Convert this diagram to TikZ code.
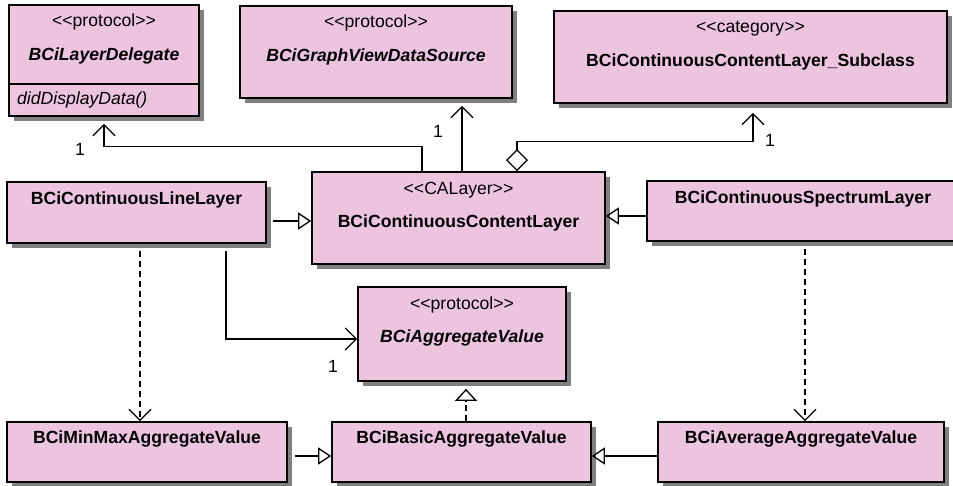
\documentclass[tikz,border=0pt]{standalone}
\usepackage{fontspec}
\setmainfont{Liberation Sans}
\usetikzlibrary{arrows.meta,shadows}
\definecolor{umlpink}{RGB}{236,196,222}
\definecolor{shadowgray}{RGB}{128,128,128}
\newcommand\umlbox[5]{\node[ubox, minimum width={(#4)-(#2)}, minimum height={(#5)-(#3)}] (#1) at ({((#2)+(#4))/2},{((#3)+(#5))/2}) {};}
\tikzset{
  ubox/.style={draw=black, line width=1.7pt, fill=umlpink, inner sep=0pt, rectangle,
    drop shadow={shadow xshift=5pt, shadow yshift=-5pt, fill=shadowgray, opacity=1}},
  st/.style={font=\fontsize{17.6}{20}\selectfont, inner sep=0pt},
  nm/.style={font=\fontsize{17.6}{20}\selectfont\bfseries, inner sep=0pt},
  nmi/.style={font=\fontsize{17.6}{20}\selectfont\bfseries\itshape, inner sep=0pt},
  conn/.style={line width=1.3pt, draw=black},
  assoc/.style={conn, -{Straight Barb[length=11pt, width=22pt]}},
  dep/.style={conn, dash pattern=on 6pt off 4pt, -{Straight Barb[length=11pt, width=22pt]}},
  gen/.style={conn, -{Triangle[open, length=13pt, width=17pt]}},
  real/.style={conn, dash pattern=on 6pt off 4pt, -{Triangle[open, length=12pt, width=22pt]}},
  aggr/.style={conn, {Diamond[open, length=22pt, width=22pt]}-{Straight Barb[length=11pt, width=22pt]}},
}
\begin{document}
\begin{tikzpicture}[x=1pt,y=-1pt]
\fill[white] (0,0) rectangle (953,486);
\path[use as bounding box] (0,0) rectangle (953,486);

% boxes
\umlbox{ld}{9}{5}{199}{116}
\umlbox{gv}{240}{6}{512}{98}
\umlbox{cat}{554}{11}{947}{103}
\umlbox{cc}{312}{172}{605}{264}
\umlbox{line}{7}{182}{266}{243}
\umlbox{spec}{647}{181}{959}{241}
\umlbox{agg}{358}{287}{566}{381}
\umlbox{minmax}{7}{422}{287}{482}
\umlbox{basic}{332}{422}{591}{482}
\umlbox{avg}{658}{422}{944}{482}

\coordinate (dv) at (0,84);
\draw[line width=1.7pt] (ld.west |- dv) -- (ld.east |- dv);

% texts
\node[st, anchor=base] (ld-st) at ([yshift=-22pt]ld.north) {<{}<protocol>{}>};
\node[nmi, anchor=base] (ld-nm) at ([yshift=-56pt]ld.north) {BCiLayerDelegate};
\node[st, anchor=base west, font=\fontsize{17.6}{20}\selectfont\itshape] (ld-op) at (17,105) {didDisplayData()};

\node[st, anchor=base] (gv-st) at ([yshift=-22pt]gv.north) {<{}<protocol>{}>};
\node[nmi, anchor=base] (gv-nm) at ([yshift=-56pt]gv.north) {BCiGraphViewDataSource};

\node[st, anchor=base] (cat-st) at ([yshift=-22pt]cat.north) {<{}<category>{}>};
\node[nm, anchor=base] (cat-nm) at ([yshift=-56pt]cat.north) {BCiContinuousContentLayer\_Subclass};

\node[st, anchor=base] (cc-st) at ([yshift=-23pt]cc.north) {<{}<CALayer>{}>};
\node[nm, anchor=base] (cc-nm) at ([yshift=-56pt]cc.north) {BCiContinuousContentLayer};

\node[nm, anchor=base] (line-nm) at ([yshift=-23pt]line.north) {BCiContinuousLineLayer};
\node[nm, anchor=base] (spec-nm) at ([yshift=-23pt]spec.north) {BCiContinuousSpectrumLayer};

\node[st, anchor=base] (agg-st) at ([yshift=-23pt]agg.north) {<{}<protocol>{}>};
\node[nmi, anchor=base] (agg-nm) at ([yshift=-56pt]agg.north) {BCiAggregateValue};

\node[nm, anchor=base] (minmax-nm) at ([yshift=-22pt]minmax.north) {BCiMinMaxAggregateValue};
\node[nm, anchor=base] (basic-nm) at ([yshift=-22pt]basic.north) {BCiBasicAggregateValue};
\node[nm, anchor=base] (avg-nm) at ([yshift=-22pt]avg.north) {BCiAverageAggregateValue};

% connectors
\coordinate (ccld) at ([xshift=-36.5pt]cc.north);
\coordinate (ldtip) at ([yshift=-7pt]ld.south);
\coordinate (ldbend) at ([yshift=-30pt]ld.south);
\draw[assoc] (ccld) |- (ldbend) -- (ldtip);

\coordinate (ccgv) at ([xshift=3.5pt]cc.north);
\coordinate (gvtip) at ([yshift=-7pt]gv.south);
\draw[assoc] (ccgv) -- (ccgv |- gvtip);

\coordinate (ccd) at ([xshift=58.5pt]cc.north);
\coordinate (cattip) at ([xshift=2.5pt, yshift=-9pt]cat.south);
\coordinate (catbend) at ([xshift=2.5pt, yshift=-38pt]cat.south);
\draw[aggr] (ccd) |- (catbend) -- (cattip);

\coordinate (g1) at ([yshift=-3pt]cc.west);
\coordinate (l1) at ([xshift=6pt]line.east);
\draw[gen] (l1 |- g1) -- (g1);

\coordinate (g2) at ([yshift=2pt]cc.east);
\draw[gen] (spec.west |- g2) -- (g2);

\coordinate (la) at ([xshift=89.5pt, yshift=-7pt]line.south);
\coordinate (at) at ([yshift=-5pt]agg.west);
\draw[assoc] (la) |- (at);

\coordinate (ld1) at ([xshift=3.5pt, yshift=-7pt]line.south);
\draw[dep] (ld1) -- (ld1 |- minmax.north);

\coordinate (sd1) at ([xshift=2pt, yshift=-7pt]spec.south);
\draw[dep] (sd1) -- (sd1 |- avg.north);

\coordinate (b1) at ([yshift=-4pt]basic.west);
\coordinate (m1) at ([xshift=7pt]minmax.east);
\draw[gen] (m1 |- b1) -- (b1);

\coordinate (b2) at ([yshift=-4pt]basic.east);
\draw[gen] (avg.west |- b2) -- (b2);

\coordinate (r1) at ([xshift=4.5pt]basic.north);
\coordinate (agtip) at ([yshift=-7pt]agg.south);
\draw[real] (r1) -- (r1 |- agtip);

% multiplicities
\node[st] (mul1) at (80,149) {1};
\node[st] (mul2) at (438,131) {1};
\node[st] (mul3) at (770,140) {1};
\node[st] (mul4) at (333,366) {1};
\end{tikzpicture}
\end{document}
